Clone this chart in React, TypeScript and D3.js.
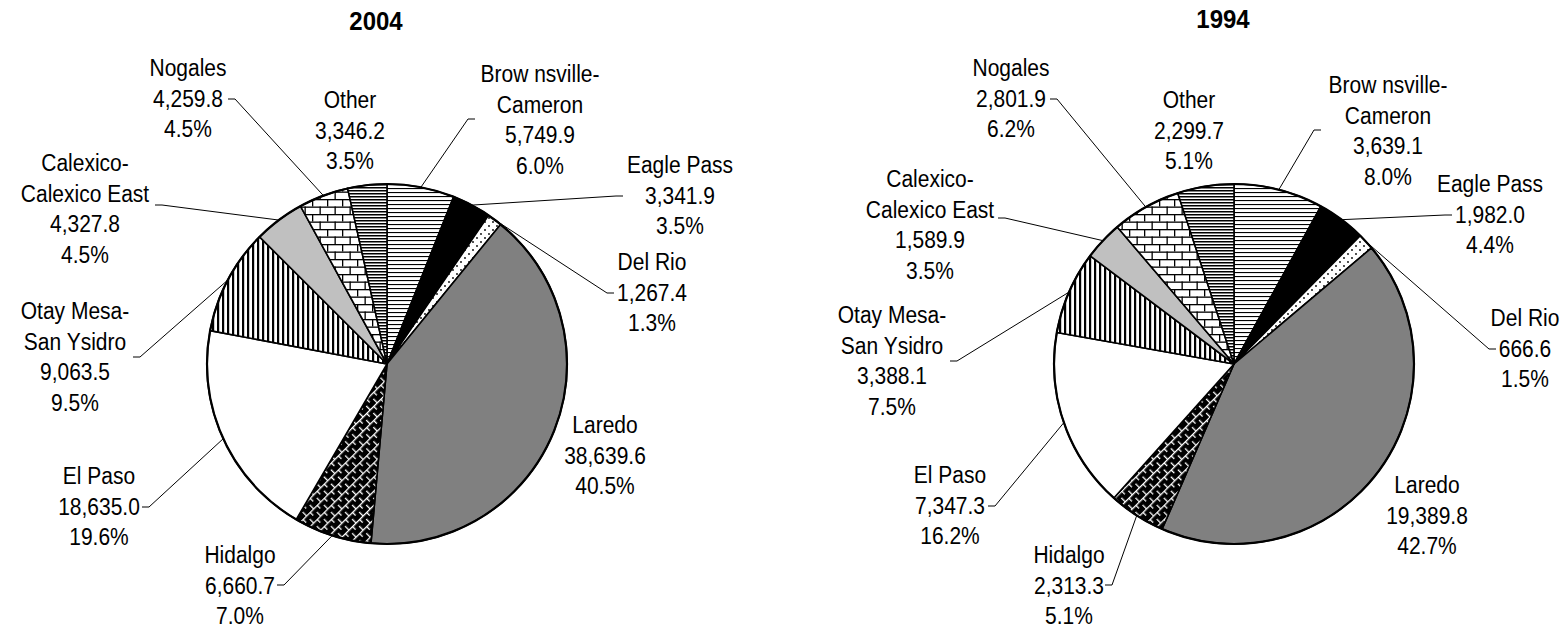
import React from 'react';
import * as d3 from 'd3';

const portLabels: string[][] = [
  ['Brow nsville-', 'Cameron'],
  ['Eagle Pass'],
  ['Del Rio'],
  ['Laredo'],
  ['Hidalgo'],
  ['El Paso'],
  ['Otay Mesa-', 'San Ysidro'],
  ['Calexico-', 'Calexico East'],
  ['Nogales'],
  ['Other'],
];
const values2004 = [5749.9, 3341.9, 1267.4, 38639.6, 6660.7, 18635.0, 9063.5, 4327.8, 4259.8, 3346.2];
const values1994 = [3639.1, 1982.0, 666.6, 19389.8, 2313.3, 7347.3, 3388.1, 1589.9, 2801.9, 2299.7];
const years = ['2004', '1994'];
const patternIds = ['hlines', 'black', 'dots', 'gray', 'dbrick', 'white', 'vlines', 'lgray', 'brick', 'nhlines'];

type Layout = {
  cx: number; cy: number; r: number; titleX: number; titleY: number;
  labels: { x: number; y: number; end: [number, number] | null }[];
};

const layouts: Layout[] = [
  {
    cx: 387, cy: 364, r: 180, titleX: 376, titleY: 21,
    labels: [
      { x: 540, y: 74, end: [475, 119] },
      { x: 680, y: 165, end: [623, 196] },
      { x: 652, y: 262, end: [614, 293] },
      { x: 605, y: 425, end: null },
      { x: 240, y: 555, end: [277, 585] },
      { x: 99, y: 476, end: [142, 507] },
      { x: 75, y: 311, end: [133, 357] },
      { x: 85, y: 163, end: [155, 205] },
      { x: 188, y: 68, end: [228, 99] },
      { x: 350, y: 100, end: null },
    ],
  },
  {
    cx: 1234, cy: 364, r: 180, titleX: 1223, titleY: 19,
    labels: [
      { x: 1388, y: 85, end: [1321, 130] },
      { x: 1490, y: 184, end: [1452, 215] },
      { x: 1525, y: 318, end: [1496, 349] },
      { x: 1427, y: 485, end: null },
      { x: 1069, y: 555, end: [1105, 585] },
      { x: 950, y: 475, end: [988, 506] },
      { x: 892, y: 315, end: [950, 361] },
      { x: 930, y: 179, end: [998, 218] },
      { x: 1011, y: 68, end: [1050, 99] },
      { x: 1189, y: 100, end: null },
    ],
  },
];

const FONT = "'Liberation Sans', Arial, sans-serif";
const SY = 1.1;
const LH = 30.5;

function Patterns() {
  return (
    <defs>
      <pattern id="hlines" width="8" height="4" patternUnits="userSpaceOnUse">
        <rect width="8" height="4" fill="#fff" />
        <rect y="0" width="8" height="1.1" fill="#000" />
      </pattern>
      <pattern id="nhlines" width="8" height="3" patternUnits="userSpaceOnUse">
        <rect width="8" height="3" fill="#fff" />
        <rect y="0" width="8" height="1.5" fill="#000" />
      </pattern>
      <pattern id="vlines" width="5" height="8" patternUnits="userSpaceOnUse">
        <rect width="5" height="8" fill="#fff" />
        <rect x="0" width="2.2" height="8" fill="#000" />
      </pattern>
      <pattern id="dots" width="8" height="8" patternUnits="userSpaceOnUse">
        <rect width="8" height="8" fill="#fff" />
        <circle cx="2" cy="2" r="0.9" fill="#000" />
        <circle cx="6" cy="6" r="0.9" fill="#000" />
      </pattern>
      <pattern id="brick" width="15" height="15" patternUnits="userSpaceOnUse">
        <rect width="15" height="15" fill="#fff" />
        <rect y="0" width="15" height="1.3" fill="#000" />
        <rect y="7.5" width="15" height="1.3" fill="#000" />
        <rect x="0" y="0" width="1.3" height="7.5" fill="#000" />
        <rect x="7.5" y="7.5" width="1.3" height="7.5" fill="#000" />
      </pattern>
      <pattern id="dbrick" width="10" height="10" patternUnits="userSpaceOnUse" patternTransform="rotate(-45)">
        <rect width="10" height="10" fill="#000" />
        <rect y="0" width="10" height="1.3" fill="#fff" />
        <rect x="0" y="0" width="1.3" height="5" fill="#fff" />
        <rect x="5" y="5" width="1.3" height="5" fill="#fff" />
      </pattern>
    </defs>
  );
}

const fillFor = (id: string) => {
  if (id === 'black') return '#000';
  if (id === 'gray') return '#808080';
  if (id === 'white') return '#fff';
  if (id === 'lgray') return '#c0c0c0';
  return `url(#${id})`;
};

function Pie({ values, layout, title }: { values: number[]; layout: Layout; title: string }) {
  const total = d3.sum(values);
  const pie = d3.pie<number>().sort(null).value((d) => d);
  const arcs = pie(values);
  const arc = d3.arc<d3.PieArcDatum<number>>().innerRadius(0).outerRadius(layout.r);
  const fmtV = d3.format(',.1f');
  const fmtP = d3.format('.1%');
  return (
    <g>
      <text
        transform={`translate(${layout.titleX},${layout.titleY}) scale(1,1.05)`}
        textAnchor="middle" dy="0.35em" fontFamily={FONT} fontWeight="bold" fontSize={24}
      >{title}</text>
      <g transform={`translate(${layout.cx},${layout.cy})`}>
        {arcs.map((a, i) => (
          <path key={i} d={arc(a) || ''} fill={fillFor(patternIds[i])} stroke="#000" strokeWidth={1.6} strokeLinejoin="round" />
        ))}
        <circle r={layout.r} fill="none" stroke="#000" strokeWidth={2.2} />
      </g>
      {arcs.map((a, i) => {
        const L = layout.labels[i];
        const lines = [...portLabels[i], fmtV(values[i]), fmtP(values[i] / total)];
        let leader = null;
        if (L.end) {
          const mid = (a.startAngle + a.endAngle) / 2;
          const sx = layout.cx + layout.r * Math.sin(mid);
          const sy = layout.cy - layout.r * Math.cos(mid);
          const [ex, ey] = L.end;
          const elbowX = ex + (sx > ex ? 7 : -7);
          leader = (
            <polyline points={`${sx},${sy} ${elbowX},${ey} ${ex},${ey}`} fill="none" stroke="#000" strokeWidth={1} />
          );
        }
        return (
          <g key={i}>
            {leader}
            {lines.map((t, k) => (
              <text key={k}
                transform={`translate(${L.x},${L.y + k * LH}) scale(1,${SY})`}
                textAnchor="middle" dy="0.35em" fontFamily={FONT} fontSize={21} fill="#000"
              >{t}</text>
            ))}
          </g>
        );
      })}
    </g>
  );
}

export default function App() {
  return (
    <svg width={1568} height={628} style={{ display: 'block', position: 'absolute', left: 0, top: 0, background: '#fff' }}>
      <Patterns />
      <rect width={1568} height={628} fill="#fff" />
      <Pie values={values2004} layout={layouts[0]} title={years[0]} />
      <Pie values={values1994} layout={layouts[1]} title={years[1]} />
    </svg>
  );
}
